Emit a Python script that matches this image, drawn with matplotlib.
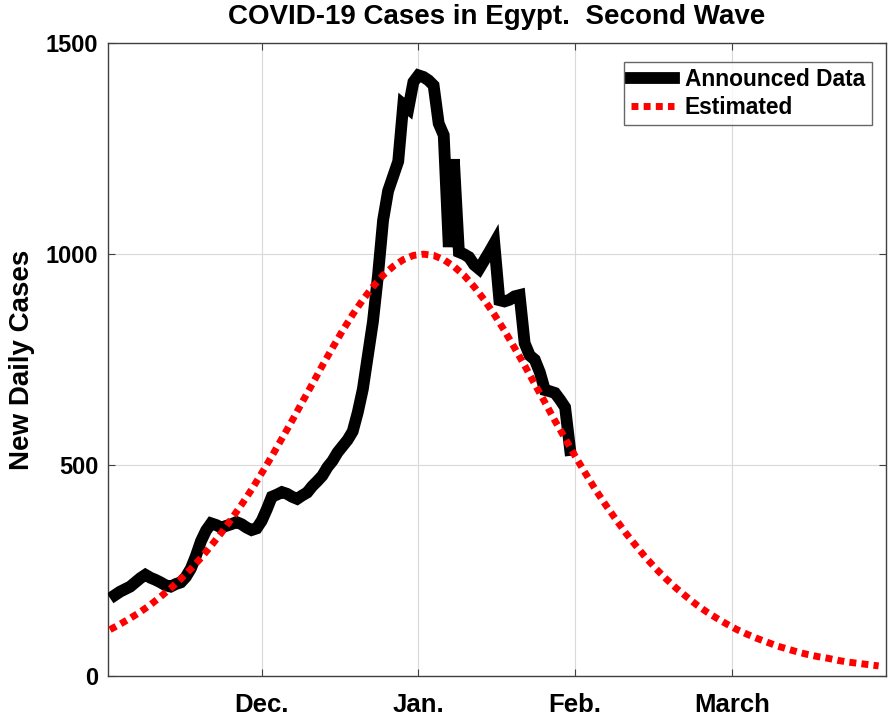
import matplotlib
matplotlib.use("Agg")
import matplotlib.pyplot as plt

plt.rcParams['font.family'] = ['Liberation Sans', 'DejaVu Sans']

# Announced daily cases (day index, starting day 1)
announced_days = list(range(1, 92))
announced_cases = [
    192, 200, 206, 212, 222, 232, 240, 233, 228, 222,
    215, 212, 218, 222, 235, 255, 285, 320, 345, 362,
    358, 352, 356, 360, 365, 360, 352, 346, 350, 368,
    395, 425, 430, 436, 432, 425, 420, 428, 435, 450,
    462, 475, 495, 510, 530, 545, 560, 580, 625, 680,
    760, 840, 950, 1080, 1150, 1185, 1220, 1355, 1345, 1408,
    1424, 1420, 1412, 1400, 1310, 1282, 1017, 1225, 1005, 1000,
    993, 975, 965, 985, 1005, 1026, 891, 888, 892, 900,
    903, 789, 760, 750, 720, 678, 675, 671, 655, 637,
    536,
]

# Estimated curve (every second day)
estimated_days = list(range(0, 153, 2))
estimated_cases = [
    110, 123, 137, 152, 169, 188, 208, 230, 254, 280,
    309, 339, 372, 406, 442, 481, 521, 563, 605, 649,
    692, 736, 778, 819, 857, 892, 923, 950, 971, 987,
    997, 1000, 997, 987, 971, 950, 923, 892, 857, 819,
    778, 736, 692, 649, 605, 563, 521, 481, 442, 406,
    372, 339, 309, 280, 254, 230, 208, 188, 169, 152,
    137, 123, 110, 99, 89, 80, 71, 64, 57, 51,
    46, 42, 37, 33, 30, 27, 24,
]

tick_days = [30, 61, 92, 123]
tick_labels = ["Dec.", "Jan.", "Feb.", "March"]
y_ticks = [0, 500, 1000, 1500]

fig = plt.figure(figsize=(8.96, 7.15), dpi=100)
ax = fig.add_axes([0.1205, 0.0545, 0.868, 0.885])

ax.plot(announced_days, announced_cases, color="black", linewidth=8.5,
        solid_joinstyle="miter", label="Announced Data", zorder=3)
ax.plot(estimated_days, estimated_cases, color="#ff0000", linewidth=5,
        linestyle=(0, (1.0, 0.75)), label="Estimated", zorder=4)

ax.set_xlim(-0.4, 153.4)
ax.set_ylim(0, 1500)
ax.set_xticks(tick_days)
ax.set_xticklabels(tick_labels)
ax.set_yticks(y_ticks)
ax.grid(True, color="#d9d9d9", linewidth=0.8)
ax.set_axisbelow(True)
for s in ax.spines.values():
    s.set_color("#404040")
    s.set_linewidth(1.0)
ax.tick_params(direction="in", top=True, right=True, length=5, width=0.8,
               color="#404040")
ax.tick_params(axis="x", labelsize=18.5, pad=12)
ax.tick_params(axis="y", labelsize=17, pad=7)
for lbl in ax.get_xticklabels() + ax.get_yticklabels():
    lbl.set_fontweight("bold")

ax.set_ylabel("New Daily Cases", fontsize=20, fontweight="bold", labelpad=8)
ax.set_title("COVID-19 Cases in Egypt.  Second Wave", fontsize=20,
             fontweight="bold", pad=14)

leg = ax.legend(loc="upper right", bbox_to_anchor=(0.982, 0.971),
                prop={"weight": "bold", "size": 16.4},
                frameon=True, fancybox=False, edgecolor="#404040",
                handlelength=1.9, handletextpad=0.45, borderpad=0.3,
                borderaxespad=0.0, labelspacing=0.18)
leg.get_frame().set_linewidth(1.0)

fig.savefig("out.png", dpi=100)
